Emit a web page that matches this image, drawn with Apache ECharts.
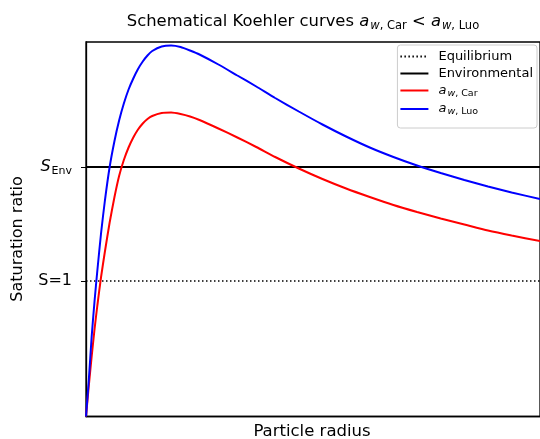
<!DOCTYPE html>
<html>
<head>
<meta charset="utf-8">
<script src="https://cdn.jsdelivr.net/npm/echarts@6/dist/echarts.min.js"></script>
<style>
html,body{margin:0;padding:0;background:#fff;}
#chart{width:540px;height:439px;}
</style>
</head>
<body>
<div id="chart"></div>
<script>
// Schematic values (arbitrary units)
const S_ONE = 135.5;   // S = 1
const S_ENV = 249.5;   // environmental saturation ratio
const X_MAX = 480;
const Y_MAX = 374.5;

const radiusLuo = [0, 3, 6, 9, 12, 16, 20, 25, 30, 35, 40, 45, 50, 55, 60, 65, 70, 80, 90, 100, 110, 120, 140, 160, 180, 200, 225, 250, 275, 300, 325, 350, 375, 400, 425, 450, 480];
const satLuo    = [0, 37, 80, 115, 146, 184, 216, 249.5, 275, 296, 313, 327, 338, 347.5, 355, 361, 365.5, 370, 371, 369.5, 366, 362, 352, 341, 330, 318.5, 305, 292, 280, 269, 259.5, 251, 243.5, 236.5, 230, 224, 217.5];

const radiusCar = [0, 3, 6, 9, 12, 16, 20, 25, 30, 35, 40, 45, 50, 55, 60, 65, 70, 80, 90, 100, 110, 120, 140, 160, 180, 200, 225, 250, 275, 300, 325, 350, 375, 400, 425, 450, 480];
const satCar    = [0, 31, 60, 87, 111, 140, 165, 194, 219, 240.5, 256.5, 269, 279, 287, 293, 297.5, 300.5, 303.5, 304, 302.5, 300, 296.5, 288, 279, 269.5, 259.5, 248, 237.5, 228, 219.5, 211.5, 204.5, 198, 192, 186, 181, 175.5];

const names = ['Equilibrium', 'Environmental', 'aw,Car', 'aw,Luo'];
const TITLE_MAIN = 'Schematical Koehler curves ';
const X_NAME = 'Particle radius';
const Y_NAME = 'Saturation ratio';

const zip = (xs, ys) => xs.map((x, i) => [x, ys[i]]);
const FONT = 'DejaVu Sans';

const chart = echarts.init(document.getElementById('chart'), null, {renderer: 'canvas'});

const legendRich = {
  i: {fontFamily: FONT, fontStyle: 'italic', fontSize: 13, color: '#000', padding: [0, 0, 0, 5]},
  si: {fontFamily: FONT, fontStyle: 'italic', fontSize: 9.5, color: '#000', padding: [6, 0, 0, 1]},
  sub: {fontFamily: FONT, fontSize: 9.5, color: '#000', padding: [6, 0, 0, 0]},
  n: {fontFamily: FONT, fontSize: 13, color: '#000', padding: [0, 0, 0, 5]}
};

chart.setOption({
  animation: false,
  backgroundColor: '#fff',
  grid: {left: 86, top: 42, width: X_MAX, height: Y_MAX, show: true, borderColor: '#000', borderWidth: 1.3, containLabel: false},
  xAxis: {
    type: 'value', min: 0, max: X_MAX,
    axisLine: {show: true, lineStyle: {color: '#000', width: 1.3}},
    axisTick: {show: false}, axisLabel: {show: false}, splitLine: {show: false}
  },
  yAxis: {
    type: 'value', min: 0, max: Y_MAX,
    axisLine: {show: true, lineStyle: {color: '#000', width: 1.3}},
    axisTick: {show: true, inside: false, length: 5, customValues: [S_ONE, S_ENV], lineStyle: {color: '#000', width: 1}},
    axisLabel: {
      show: true, margin: 14, customValues: [S_ONE, S_ENV],
      formatter: v => Math.abs(v - S_ENV) < 1 ? '{i|S}{sub|Env}' : '{n|S=1}',
      rich: {
        i: {fontFamily: FONT, fontStyle: 'italic', fontSize: 16, color: '#000'},
        sub: {fontFamily: FONT, fontSize: 11, color: '#000', padding: [8, 0, 0, 1]},
        n: {fontFamily: FONT, fontSize: 16, color: '#000'}
      }
    },
    splitLine: {show: false}
  },
  legend: {
    right: 3, top: 45, orient: 'vertical',
    backgroundColor: '#fff', borderColor: '#ccc', borderWidth: 1, borderRadius: 3,
    padding: [5, 4, 11, 2], itemGap: 4, itemWidth: 28, itemHeight: 14,
    itemStyle: {opacity: 0},
    data: names,
    formatter: n => {
      if (n === 'aw,Car') return '{i|a}{si|w}{sub|, Car}';
      if (n === 'aw,Luo') return '{i|a}{si|w}{sub|, Luo}';
      return '{n|' + n + '}';
    },
    textStyle: {fontFamily: FONT, fontSize: 13, color: '#000', rich: legendRich}
  },
  graphic: [
    {
      type: 'text', x: 303, y: 22,
      style: {
        text: '{n|' + TITLE_MAIN + '}{i|a}{si|w}{sub|, Car}{n| < }{i|a}{si|w}{sub|, Luo}',
        align: 'center', verticalAlign: 'middle',
        rich: {
          n: {fontFamily: FONT, fontSize: 16.4, color: '#000'},
          i: {fontFamily: FONT, fontStyle: 'italic', fontSize: 16.4, color: '#000'},
          si: {fontFamily: FONT, fontStyle: 'italic', fontSize: 11.5, color: '#000', padding: [9, 0, 0, 1]},
          sub: {fontFamily: FONT, fontSize: 11.5, color: '#000', padding: [9, 0, 0, 0]}
        }
      }
    },
    {
      type: 'text', x: 312, y: 432,
      style: {text: X_NAME, fontFamily: FONT, fontSize: 16.5, fill: '#000', align: 'center', verticalAlign: 'middle'}
    },
    {
      type: 'text', x: 18, y: 239, rotation: Math.PI / 2,
      style: {text: Y_NAME, fontFamily: FONT, fontSize: 16, fill: '#000', align: 'center', verticalAlign: 'middle'}
    }
  ],
  series: [
    {name: names[0], type: 'line', showSymbol: false, symbol: 'none', silent: true,
     data: [[0, S_ONE], [X_MAX, S_ONE]], lineStyle: {color: '#000', width: 1.5, type: [1.5, 2.5]}, itemStyle: {color: '#000'}},
    {name: names[1], type: 'line', showSymbol: false, symbol: 'none', silent: true,
     data: [[0, S_ENV], [X_MAX, S_ENV]], lineStyle: {color: '#000', width: 2}, itemStyle: {color: '#000'}},
    {name: names[2], type: 'line', showSymbol: false, symbol: 'none', smooth: 0.2,
     data: zip(radiusCar, satCar), lineStyle: {color: '#ff0000', width: 2}, itemStyle: {color: '#ff0000'}},
    {name: names[3], type: 'line', showSymbol: false, symbol: 'none', smooth: 0.2,
     data: zip(radiusLuo, satLuo), lineStyle: {color: '#0000ff', width: 2}, itemStyle: {color: '#0000ff'}}
  ]
});
</script>
</body>
</html>
